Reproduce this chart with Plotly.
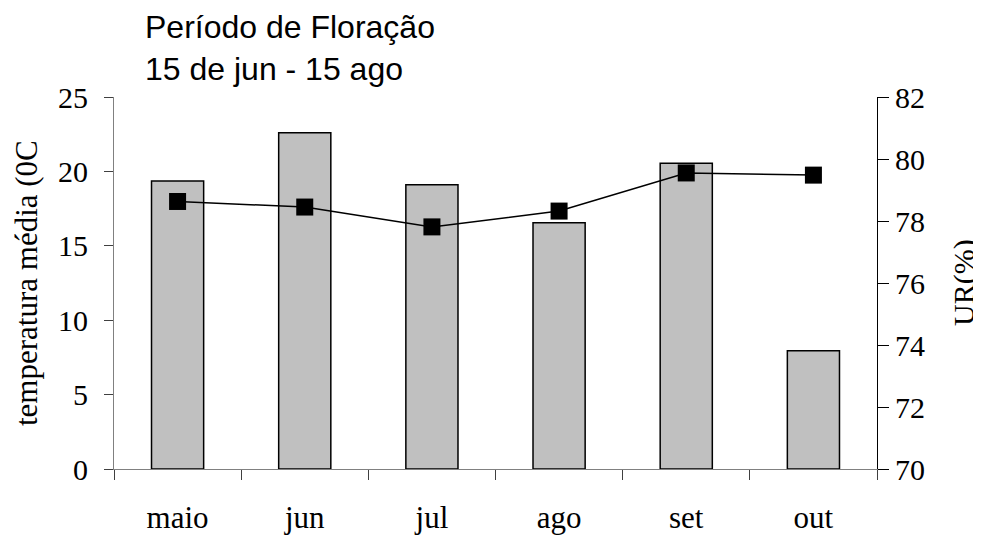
import plotly.graph_objects as go

meses = ['maio', 'jun', 'jul', 'ago', 'set', 'out']
temperatura = [19.35, 22.6, 19.1, 16.55, 20.55, 7.95]
ur = [78.63, 78.45, 77.81, 78.32, 79.55, 79.48]

serif = 'Liberation Serif, Times New Roman, serif'
sans = 'Liberation Sans, Arial, sans-serif'

# page body has an 8px margin, so the figure is shrunk by that much
W, H = 973, 527
L, R, T, B = 106, 104, 89, 65.5
pw = W - L - R
ph = H - T - B

bars = go.Bar(
    x=meses, y=temperatura,
    width=0.41,
    marker=dict(color='#C0C0C0', line=dict(color='black', width=1.5)),
    showlegend=False,
)
line = go.Scatter(
    x=meses, y=ur, yaxis='y2',
    mode='lines+markers',
    line=dict(color='black', width=1.5),
    marker=dict(symbol='square', size=17, color='black'),
    showlegend=False,
)

layout = go.Layout(
    width=W, height=H,
    margin=dict(l=L, r=R, t=T, b=B, pad=0),
    paper_bgcolor='white', plot_bgcolor='white',
    font=dict(family=serif, size=30, color='black'),
    xaxis=dict(
        automargin=False,
        showline=True, linecolor='#808080', linewidth=1,
        ticks='outside', tickson='boundaries', ticklen=10, tickcolor='#404040',
        ticklabelstandoff=21, tickfont=dict(size=31),
        showgrid=False, zeroline=False,
    ),
    yaxis=dict(
        automargin=False,
        range=[0, 25], dtick=5,
        showline=True, linecolor='#808080', linewidth=1,
        ticks='outside', ticklen=9, tickcolor='#404040',
        ticklabelstandoff=10,
        showgrid=False, zeroline=False,
    ),
    yaxis2=dict(
        automargin=False,
        range=[70, 82], dtick=2,
        overlaying='y', side='right',
        showline=True, linecolor='black', linewidth=1,
        ticks='outside', ticklen=11, tickcolor='black',
        ticklabelstandoff=0,
        showgrid=False, zeroline=False,
    ),
    annotations=[
        dict(text='Período de Floração<br>15 de jun - 15 ago',
             x=(135 - L) / pw, y=1 + (T + 1) / ph,
             xref='paper', yref='paper', showarrow=False,
             xanchor='left', yanchor='top', align='left',
             font=dict(family=sans, size=32)),
        dict(text='temperatura média (0C', textangle=-90,
             x=(18 - L) / pw, y=0.5, xref='paper', yref='paper', showarrow=False,
             xanchor='center', yanchor='middle',
             font=dict(family=serif, size=31)),
        dict(text='UR(%)', textangle=-90,
             x=(956 - L) / pw, y=0.5, xref='paper', yref='paper', showarrow=False,
             xanchor='center', yanchor='middle',
             font=dict(family=serif, size=30)),
    ],
)

fig = go.Figure(data=[bars, line], layout=layout)
fig.write_html('out.html')
